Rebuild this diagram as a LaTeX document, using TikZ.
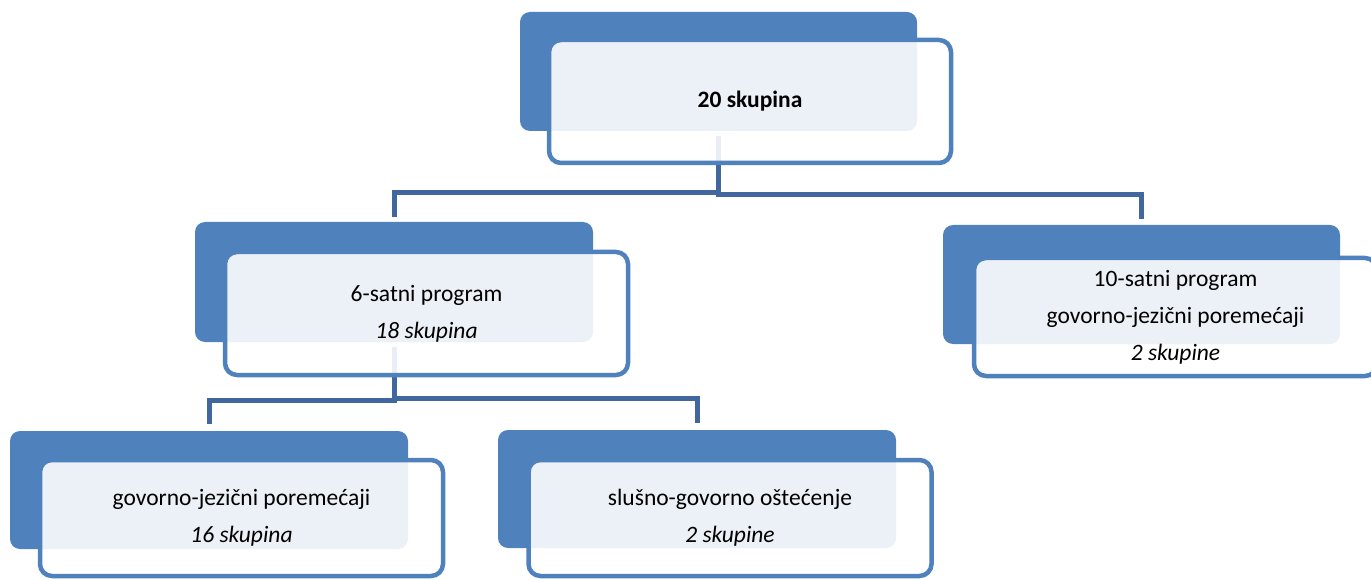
\documentclass[tikz,border=0pt]{standalone}
\usepackage{fontspec}
\setmainfont{Carlito}
\definecolor{accblue}{HTML}{4F81BD}
\definecolor{connblue}{RGB}{64,104,158}
\tikzset{
  backbox/.style={draw=none, fill=accblue, rounded corners=10pt, inner sep=0pt, outer sep=0pt},
  frontbox/.style={draw=accblue, line width=4.5pt, fill=white, fill opacity=0.89, draw opacity=1, text opacity=1,
     rounded corners=12pt, inner sep=0pt, outer sep=0pt, align=center,
     font=\fontsize{23.5}{37}\selectfont},
  conn/.style={draw=connblue, line width=5pt}
}
\begin{document}
\begin{tikzpicture}[x=1pt,y=-1pt]
\useasboundingbox (0,0) rectangle (1371,580);
% back boxes
\node[backbox, minimum width=397pt, minimum height=119pt] (b0) at (718.5,71.5) {};
\node[backbox, minimum width=398pt, minimum height=120pt] (b1) at (394,282) {};
\node[backbox, minimum width=397pt, minimum height=119pt] (b2) at (1141.5,284.5) {};
\node[backbox, minimum width=398pt, minimum height=118pt] (b3) at (209,490) {};
\node[backbox, minimum width=398pt, minimum height=118pt] (b4) at (697,489) {};
% connectors
\draw[conn] ([yshift=-5pt]b0.south) -- ++(0,57) -| ([yshift=5pt]b1.north);
\draw[conn] ([yshift=-5pt]b0.south) -- ++(0,59) -| ([yshift=6pt]b2.north);
\draw[conn] ([yshift=-5pt]b1.south) -- ++(0,53) -| ([yshift=7pt]b3.north);
\draw[conn] ([yshift=-5pt]b1.south) -- ++(0,51) -| ([yshift=7pt]b4.north);
% front boxes
\node[frontbox, minimum width=402pt, minimum height=123pt] (f0) at (750,101.5) {\textbf{20 skupina}};
\node[frontbox, minimum width=403pt, minimum height=123pt] (f1) at (426.5,313.5) {6-satni program\\\textit{18 skupina}};
\node[frontbox, minimum width=403pt, minimum height=118pt] (f2) at (1175.5,317) {10-satni program\\govorno-jezični poremećaji\\\textit{2 skupine}};
\node[frontbox, minimum width=403pt, minimum height=116pt] (f3) at (241.5,518) {govorno-jezični poremećaji\\\textit{16 skupina}};
\node[frontbox, minimum width=403pt, minimum height=116pt] (f4) at (730,518) {slušno-govorno oštećenje\\\textit{2 skupine}};
\end{tikzpicture}
\end{document}
